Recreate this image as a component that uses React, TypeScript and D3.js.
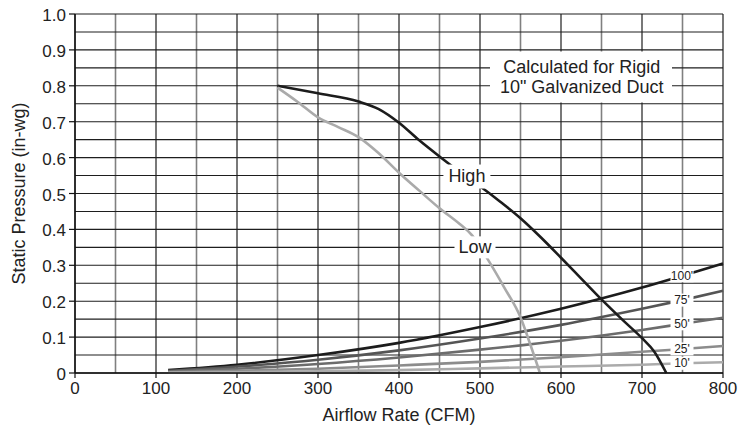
import React from "react";
import * as d3 from "d3";

// ---- data ----
const xTicks = [0, 100, 200, 300, 400, 500, 600, 700, 800];
const yTicks = [0, 0.1, 0.2, 0.3, 0.4, 0.5, 0.6, 0.7, 0.8, 0.9, 1.0];
const xTickLabels = ["0", "100", "200", "300", "400", "500", "600", "700", "800"];
const yTickLabels = ["0", "0.1", "0.2", "0.3", "0.4", "0.5", "0.6", "0.7", "0.8", "0.9", "1.0"];

const highCfm = [250, 300, 350, 375, 400, 425, 450, 475, 500, 525, 550, 575, 600, 625, 650, 675, 700, 715, 730];
const highPressure = [0.8, 0.779, 0.756, 0.735, 0.697, 0.648, 0.603, 0.56, 0.52, 0.477, 0.431, 0.378, 0.321, 0.263, 0.205, 0.15, 0.097, 0.06, 0.0];

const lowCfm = [250, 275, 300, 325, 350, 375, 400, 425, 450, 475, 490, 510, 530, 550, 562, 574];
const lowPressure = [0.795, 0.755, 0.712, 0.685, 0.657, 0.612, 0.558, 0.508, 0.459, 0.415, 0.384, 0.315, 0.238, 0.155, 0.08, 0.0];

const systemCfm = [115, 200, 300, 400, 500, 600, 700, 750, 800];
const sys100 = [0.008, 0.023, 0.05, 0.084, 0.128, 0.179, 0.238, 0.271, 0.305];
const sys75 = [0.006, 0.018, 0.037, 0.063, 0.096, 0.134, 0.179, 0.203, 0.229];
const sys50 = [0.004, 0.012, 0.025, 0.043, 0.065, 0.09, 0.12, 0.137, 0.154];
const sys25 = [0.002, 0.006, 0.012, 0.021, 0.031, 0.044, 0.059, 0.067, 0.075];
const sys10 = [0.001, 0.002, 0.005, 0.008, 0.013, 0.018, 0.023, 0.027, 0.03];
const systemLabels = ["100'", "75'", "50'", "25'", "10'"];
const systemSeries = [sys100, sys75, sys50, sys25, sys10];
const systemLabelCfm = 750;

const fanLabels = ["High", "Low"];
const fanLabelAt = [
  [490, 0.55],
  [500, 0.35],
];

const noteLines = ["Calculated for Rigid", "10\" Galvanized Duct"];

// ---- styles ----
const FONT = "'Liberation Sans', Arial, Helvetica, sans-serif";
const TXT = "#222";
const sysColors = ["#1c1c1c", "#555", "#6c6c6c", "#8c8c8c", "#ababab"];

export default function App() {
  const W = 749;
  const H = 430;
  const x = d3.scaleLinear().domain([0, 800]).range([75, 723]);
  const y = d3.scaleLinear().domain([0, 1]).range([373, 14]);

  const line = d3
    .line<[number, number]>()
    .x((d) => x(d[0]))
    .y((d) => y(d[1]))
    .curve(d3.curveMonotoneX);

  const vGrid = d3.range(0, 801, 50);
  const hGrid = d3.range(0, 21).map((i) => i * 0.05);

  const highPts = highCfm.map((c, i) => [c, highPressure[i]] as [number, number]);
  const lowPts = lowCfm.map((c, i) => [c, lowPressure[i]] as [number, number]);

  return (
    <svg
      width={W}
      height={H}
      style={{ position: "absolute", left: 0, top: 0, display: "block", background: "#fff" }}
      fontFamily={FONT}
    >
      {/* vertical grid */}
      {vGrid.map((v) => (
        <line
          key={"v" + v}
          x1={x(v)}
          x2={x(v)}
          y1={y(1)}
          y2={y(0)}
          stroke={v % 100 === 0 ? "#1e1e1e" : "#808080"}
          strokeWidth={v % 100 === 0 ? 1.2 : 1.6}
        />
      ))}
      {/* horizontal grid */}
      {hGrid.map((h, i) => (
        <line key={"h" + i} x1={x(0)} x2={x(800)} y1={y(h)} y2={y(h)} stroke="#1e1e1e" strokeWidth={1.1} />
      ))}

      {/* note box */}
      <rect x={490} y={51.5} width={182} height={51} fill="#fff" />
      {noteLines.map((t, i) => (
        <text key={t} x={581.7} y={73.3 + i * 20} textAnchor="middle" fontSize={18} fill={TXT}>
          {t}
        </text>
      ))}

      {/* system curves */}
      {systemSeries.map((s, k) => (
        <path
          key={"s" + k}
          d={line(systemCfm.map((c, i) => [c, s[i]] as [number, number])) || ""}
          fill="none"
          stroke={sysColors[k]}
          strokeWidth={2.6}
        />
      ))}

      {/* fan curves */}
      <path d={line(highPts) || ""} fill="none" stroke="#1c1c1c" strokeWidth={2.6} />
      <path d={line(lowPts) || ""} fill="none" stroke="#aaaaaa" strokeWidth={2.6} />

      {/* system labels */}
      {systemSeries.map((s, k) => {
        const idx = systemCfm.indexOf(systemLabelCfm);
        const cy = y(s[idx]) + 4;
        const cx = x(systemLabelCfm) - 0.5;
        return (
          <g key={"sl" + k}>
            <rect x={cx - 11.5} y={cy - 10.5} width={23} height={13} fill="#fff" />
            <text x={cx} y={cy} textAnchor="middle" fontSize={12} fill={TXT}>
              {systemLabels[k]}
            </text>
          </g>
        );
      })}

      {/* fan labels */}
      {fanLabels.map((t, k) => {
        const cx = x(fanLabelAt[k][0]) - 5;
        const cy = y(fanLabelAt[k][1]) + 6;
        const hw = k === 0 ? 23.5 : 20.5;
        return (
          <g key={t}>
            <rect x={cx - hw} y={cy - 17} width={hw * 2} height={k === 0 ? 24 : 22} fill="#fff" />
            <text x={cx} y={cy} textAnchor="middle" fontSize={18} fill={TXT}>
              {t}
            </text>
          </g>
        );
      })}

      {/* axes */}
      <line x1={x(0)} x2={x(0)} y1={y(1)} y2={y(0)} stroke="#111" strokeWidth={1.4} />
      <line x1={x(0)} x2={x(800)} y1={y(0)} y2={y(0)} stroke="#111" strokeWidth={1.4} />
      {yTicks.map((v, i) => (
        <g key={"yt" + i}>
          <line x1={x(0) - 6} x2={x(0)} y1={y(v)} y2={y(v)} stroke="#111" strokeWidth={1.2} />
          <text x={66} y={y(v) + 7} textAnchor="end" fontSize={17} fill={TXT}>
            {yTickLabels[i]}
          </text>
        </g>
      ))}
      {xTicks.map((v, i) => (
        <g key={"xt" + i}>
          <line x1={x(v)} x2={x(v)} y1={y(0)} y2={y(0) + 5} stroke="#111" strokeWidth={1.2} />
          <text x={x(v)} y={394} textAnchor="middle" fontSize={17} fill={TXT}>
            {xTickLabels[i]}
          </text>
        </g>
      ))}

      {/* axis titles */}
      <text x={399} y={421} textAnchor="middle" fontSize={18} fill={TXT}>
        Airflow Rate (CFM)
      </text>
      <text
        transform={`translate(25,193.5) rotate(-90)`}
        textAnchor="middle"
        fontSize={18}
        fill={TXT}
      >
        Static Pressure (in-wg)
      </text>
    </svg>
  );
}
